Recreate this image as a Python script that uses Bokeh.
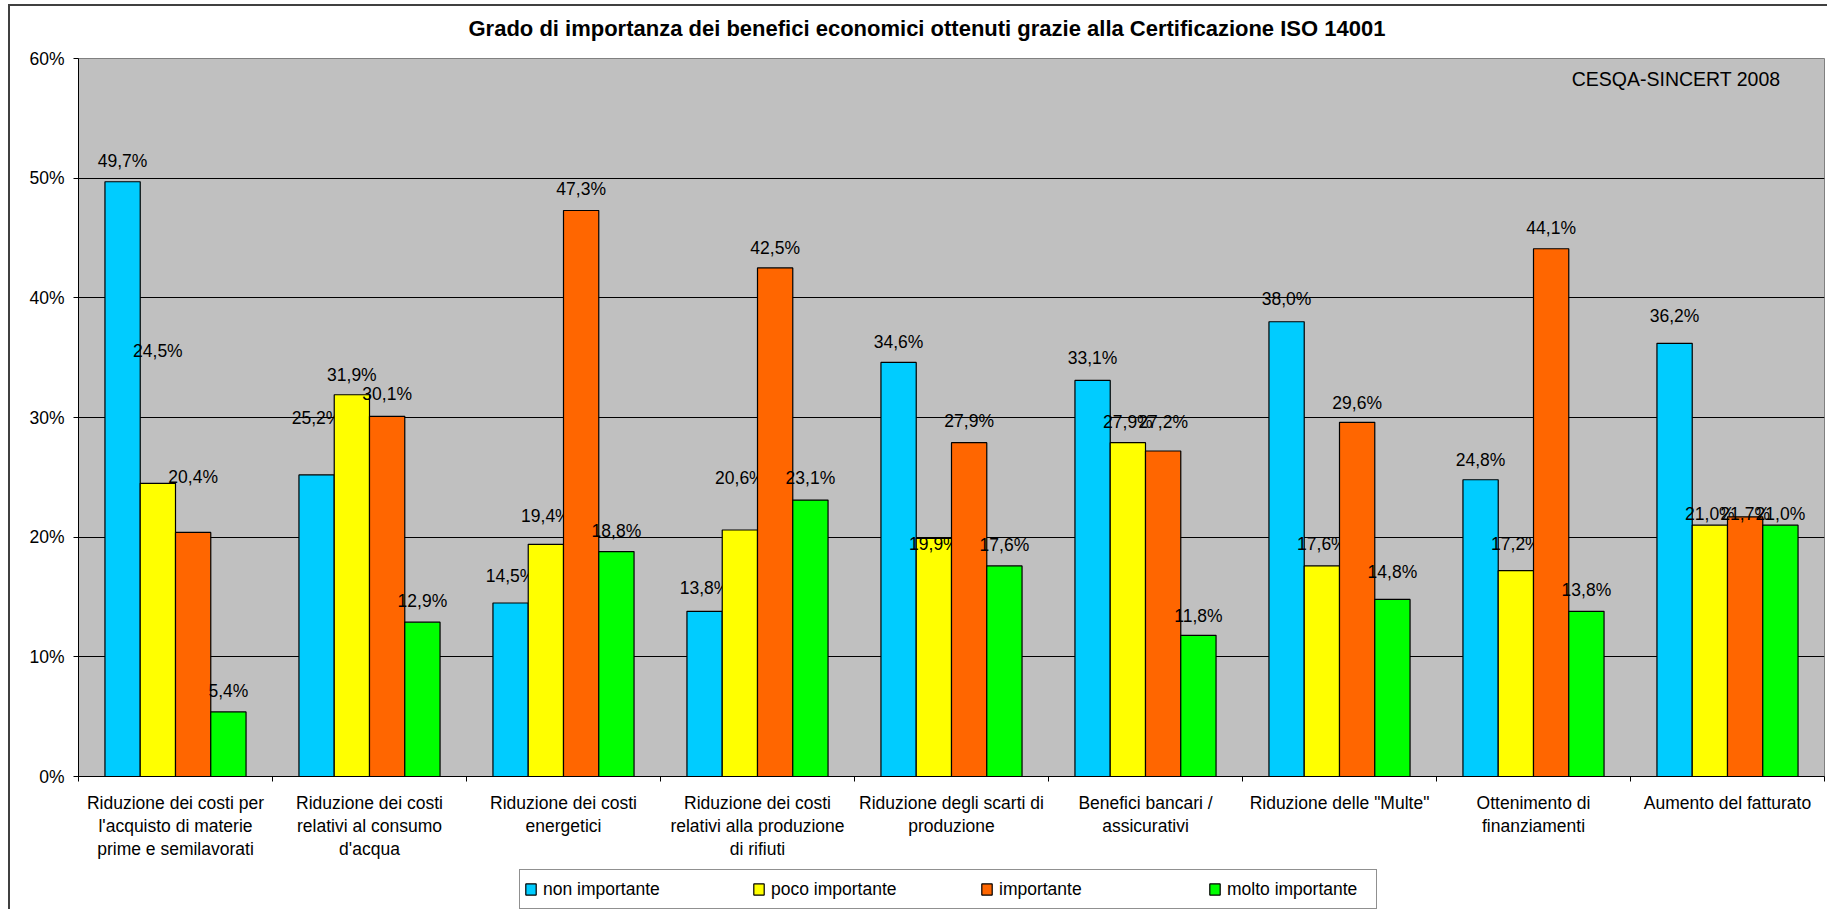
from bokeh.plotting import figure
from bokeh.layouts import column
from bokeh.models import (Range1d, FixedTicker, PrintfTickFormatter, Label,
                          Legend, LegendItem, ColumnDataSource)
from bokeh.core.properties import value
from bokeh.embed import file_html
from bokeh.resources import INLINE

# ---------------- data ----------------
categories = [
    "Riduzione dei costi per\nl'acquisto di materie\nprime e semilavorati",
    "Riduzione dei costi\nrelativi al consumo\nd'acqua",
    "Riduzione dei costi\nenergetici",
    "Riduzione dei costi\nrelativi alla produzione\ndi rifiuti",
    "Riduzione degli scarti di\nproduzione",
    "Benefici bancari /\nassicurativi",
    "Riduzione delle \"Multe\"",
    "Ottenimento di\nfinanziamenti",
    "Aumento del fatturato",
]
series_names = ["non importante", "poco importante", "importante", "molto importante"]
non_importante = [49.7, 25.2, 14.5, 13.8, 34.6, 33.1, 38.0, 24.8, 36.2]
poco_importante = [24.5, 31.9, 19.4, 20.6, 19.9, 27.9, 17.6, 17.2, 21.0]
importante = [20.4, 30.1, 47.3, 42.5, 27.9, 27.2, 29.6, 44.1, 21.7]
molto_importante = [5.4, 12.9, 18.8, 23.1, 17.6, 11.8, 14.8, 13.8, 21.0]
y_ticks = [0, 10, 20, 30, 40, 50, 60]
title_text = "Grado di importanza dei benefici economici ottenuti grazie alla Certificazione ISO 14001"
source_text = "CESQA-SINCERT 2008"

# ---------------- styles ----------------
colors = ["#00CCFF", "#FFFF00", "#FF6600", "#00FF00"]
# vertical lift (px) of each data label above its bar top, as placed in the original
lift_non = [21, 57, 27, 23, 20, 22, 23, 20, 27]
lift_poco = [132, 20, 28, 52, -6, 21, 22, 27, 11]
lift_imp = [55, 22, 21, 20, 22, 29, 19, 21, 3]
lift_molto = [21, 21, 21, 22, 21, 19, 27, 21, 11]

FONT = "Liberation Sans"
W = 1827
H_CHART, H_LEG = 869, 40
FL, FT, FR, FB = 78, 57, 1824, 776   # frame edges in page px
NCAT = len(categories)
YMAX = 60
BORDER_L = "linear-gradient(#404040,#404040) 8px {top}px / 2px 100% no-repeat"
BORDER_T = "linear-gradient(#404040,#404040) 8px 4px / 100% 2px no-repeat"


def px_x(px):
    return (px - FL) / (FR - FL) * NCAT


def px_y(py):
    return (FB - py) / (FB - FT) * YMAX


p = figure(width=W, height=H_CHART, output_backend="svg", toolbar_location=None,
           x_range=Range1d(0, NCAT), y_range=Range1d(0, YMAX),
           min_border_left=FL, min_border_top=FT,
           min_border_right=W - FR, min_border_bottom=H_CHART - FB)
p.background_fill_color = "#C0C0C0"
p.border_fill_color = None
p.outline_line_color = "#808080"
p.outline_line_width = 1
# white chart area with its dark frame (left and top edges visible in the window)
p.styles = {"background": BORDER_L.format(top=4) + ", " + BORDER_T + ", white"}

# title
p.title.text = title_text
p.title.align = "left"
p.title.offset = 390
p.title.vertical_align = "top"
p.title.standoff = 31
p.title.text_font = FONT
p.title.text_font_style = "bold"
p.title.text_font_size = "22px"
p.title.text_color = "black"

# y axis
p.yaxis.ticker = FixedTicker(ticks=y_ticks)
p.yaxis.formatter = PrintfTickFormatter(format="%d%%")
p.yaxis.major_tick_out = 5
p.yaxis.major_tick_in = 0
p.yaxis.minor_tick_line_color = None
p.yaxis.axis_line_color = "black"
p.yaxis.major_tick_line_color = "black"
p.yaxis.major_label_standoff = 9
p.yaxis.major_label_text_font = FONT
p.yaxis.major_label_text_font_size = "17.5px"
p.yaxis.major_label_text_color = "black"

# x axis: labels at category centres, tick marks at category boundaries
p.xaxis.ticker = FixedTicker(ticks=[i + 0.5 for i in range(NCAT)],
                             minor_ticks=list(range(NCAT + 1)))
p.xaxis.major_label_overrides = {i + 0.5: c for i, c in enumerate(categories)}
p.xaxis.major_tick_line_color = None
p.xaxis.major_tick_out = 0
p.xaxis.major_tick_in = 0
p.xaxis.minor_tick_out = 5
p.xaxis.minor_tick_in = 0
p.xaxis.minor_tick_line_color = "black"
p.xaxis.axis_line_color = "black"
p.xaxis.major_label_standoff = 11
p.xaxis.major_label_text_font = FONT
p.xaxis.major_label_text_font_size = "17.5px"
p.xaxis.major_label_text_line_height = 1.17
p.xaxis.major_label_text_color = "black"

p.xgrid.grid_line_color = None
p.ygrid.grid_line_color = "black"
p.ygrid.grid_line_width = 1

# bars and value labels
series = [non_importante, poco_importante, importante, molto_importante]
lifts = [lift_non, lift_poco, lift_imp, lift_molto]
bar_w = 1 / 5.5
sources = []
for j, (name, vals, col, lift) in enumerate(zip(series_names, series, colors, lifts)):
    xs = [i + (1.25 + j) / 5.5 for i in range(NCAT)]
    labels = [("%.1f" % v).replace(".", ",") + "%" for v in vals]
    src = ColumnDataSource(dict(x=xs, top=vals, label=labels,
                                yoff=[-l for l in lift]))
    sources.append(src)
    p.vbar(x="x", top="top", bottom=0, width=bar_w, source=src,
           fill_color=col, line_color="black", line_width=1.2)
    p.text(x="x", y="top", text="label", y_offset="yoff", source=src,
           text_align="center", text_baseline="middle",
           text_font=value(FONT), text_font_size="17.5px", text_color="black")

# source note
p.add_layout(Label(x=px_x(1780), y=px_y(78), text=source_text, text_align="right",
                   text_baseline="middle", text_font=FONT,
                   text_font_size="19.5px", text_color="black"))

# ---------------- legend strip under the chart ----------------
# same series drawn in a strip whose y-range lies above all values, so only the
# legend entries show
pl = figure(width=W, height=H_LEG, output_backend="svg", toolbar_location=None,
            x_axis_type=None, y_axis_type=None, x_range=Range1d(0, NCAT),
            y_range=Range1d(100, 101), min_border=0)
pl.outline_line_color = None
pl.background_fill_color = None
pl.border_fill_color = None
pl.styles = {"background": BORDER_L.format(top=0) + ", white"}
items = []
for name, col, src in zip(series_names, colors, sources):
    r = pl.vbar(x="x", top="top", bottom=0, width=bar_w, source=src,
                fill_color=col, line_color="black", line_width=1.2)
    items.append(LegendItem(label=name, renderers=[r]))
legend = Legend(items=items, orientation="horizontal", location=(519 - FL, 0),
                background_fill_color="white", background_fill_alpha=1,
                border_line_color="#222222", border_line_width=1,
                padding=4, margin=0, spacing=64, label_width=145,
                glyph_width=13, glyph_height=14, label_standoff=6,
                label_height=30, label_text_font=FONT, label_text_font_size="17.5px",
                label_text_color="black")
pl.add_layout(legend, "center")

layout = column(p, pl, spacing=0)
open("out.html", "w").write(file_html(layout, INLINE))
